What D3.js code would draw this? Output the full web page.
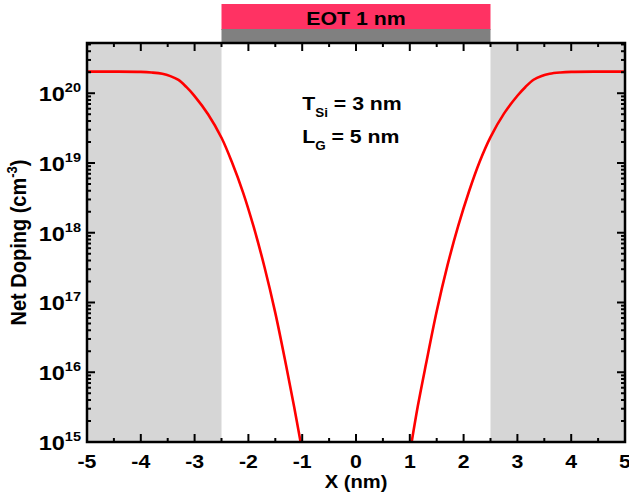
<!DOCTYPE html>
<html>
<head>
<meta charset="utf-8">
<script src="https://cdn.jsdelivr.net/npm/d3@7"></script>
<style>
  body { margin: 0; background: #fff; }
  text { font-family: "Liberation Sans", Arial, sans-serif; font-weight: bold; }
</style>
</head>
<body>
<div id="chart"></div>
<script>
// afmetingen van de figuur
const width = 629;
const height = 495;
const margin = {top: 43, right: 4, bottom: 53, left: 87};

// positie (nm) en netto dotering (cm^-3)
const positionLeft = [-5, -4.5, -4.0, -3.8, -3.6, -3.45, -3.3, -3.15, -3.0, -2.75, -2.5, -2.3, -2.1, -1.9, -1.7, -1.5, -1.3, -1.15, -1.03];
const dopingLeft = [2.04e20, 2.04e20, 2.02e20, 1.98e20, 1.9e20, 1.76e20, 1.55e20, 1.22e20, 9.1e19, 5.0e19, 2.3e19, 1.0e19, 3.8e18, 1.2e18, 3.2e17, 7.1e16, 1.26e16, 3.2e15, 1.0e15];
const positionRight = [1.035, 1.15, 1.3, 1.5, 1.7, 1.9, 2.1, 2.3, 2.5, 2.75, 3.0, 3.15, 3.3, 3.45, 3.6, 3.8, 4.0, 4.5, 5];
const dopingRight = [1.0e15, 3.3e15, 1.3e16, 7.5e16, 3.4e17, 1.25e18, 3.9e18, 1.05e19, 2.35e19, 5.1e19, 9.2e19, 1.23e20, 1.56e20, 1.77e20, 1.9e20, 1.98e20, 2.02e20, 2.04e20, 2.04e20];

// as-instellingen
const xTicks = [-5, -4, -3, -2, -1, 0, 1, 2, 3, 4, 5];
const yDecades = [15, 16, 17, 18, 19, 20];
const sourceRegion = [-5, -2.5];
const drainRegion = [2.5, 5];
const gateRegion = [-2.5, 2.5];

const plotW = width - margin.left - margin.right;
const plotH = height - margin.top - margin.bottom;
const stretch = 1.12;

const svg = d3.select("#chart")
    .append("svg")
    .attr("width", width)
    .attr("height", height);

const g = svg.append("g")
    .attr("transform", "translate(" + margin.left + "," + margin.top + ")");

// schalen
const xScale = d3.scaleLinear()
    .domain([-5, 5])
    .range([0, plotW]);

const yScale = d3.scaleLog()
    .domain([1e15, Math.pow(10, 20.72)])
    .range([plotH, 0]);

// hulpfunctie: tekst iets breder maken, zoals in het origineel
function label(x, y, size, anchor) {
  return g.append("text")
      .attr("transform", "translate(" + x + "," + y + ") scale(" + stretch + ",1)")
      .attr("text-anchor", anchor)
      .attr("font-size", size + "px");
}

// grijze source/drain gebieden
[sourceRegion, drainRegion].forEach(function(r) {
  g.append("rect")
      .attr("x", xScale(r[0]))
      .attr("y", 0)
      .attr("width", xScale(r[1]) - xScale(r[0]))
      .attr("height", plotH)
      .attr("fill", "#d6d6d6");
});

// gate stack boven de figuur
g.append("rect")
    .attr("x", xScale(gateRegion[0]))
    .attr("y", -39)
    .attr("width", xScale(gateRegion[1]) - xScale(gateRegion[0]))
    .attr("height", 26)
    .attr("fill", "#ff3263");
g.append("rect")
    .attr("x", xScale(gateRegion[0]))
    .attr("y", -14)
    .attr("width", xScale(gateRegion[1]) - xScale(gateRegion[0]))
    .attr("height", 14)
    .attr("fill", "#808080");
label(xScale(0), -18, 19, "middle").text("EOT 1 nm");

// de lijnen
const line = d3.line()
    .x(function(d) { return xScale(d[0]); })
    .y(function(d) { return yScale(d[1]); })
    .curve(d3.curveCatmullRom.alpha(0.5));

g.append("clipPath").attr("id", "clip")
  .append("rect").attr("width", plotW).attr("height", plotH + 2).attr("y", -1);

[[positionLeft, dopingLeft], [positionRight, dopingRight]].forEach(function(s) {
  g.append("path")
      .datum(d3.zip(s[0], s[1]))
      .attr("clip-path", "url(#clip)")
      .attr("fill", "none")
      .attr("stroke", "#ff0000")
      .attr("stroke-width", 2.6)
      .attr("d", line);
});

// tick marks (naar binnen)
const xMinor = d3.range(-4.5, 5, 1);
const yMinor = [];
for (let e = 15; e <= 20; e++) {
  for (let m = 2; m <= 9; m++) {
    if (Math.log10(m) + e <= 20.72) yMinor.push(m * Math.pow(10, e));
  }
}

const ticks = g.append("g").attr("stroke", "#000").attr("stroke-width", 2);
xTicks.forEach(function(t) {
  ticks.append("line").attr("x1", xScale(t)).attr("x2", xScale(t)).attr("y1", plotH).attr("y2", plotH - 8);
  ticks.append("line").attr("x1", xScale(t)).attr("x2", xScale(t)).attr("y1", 0).attr("y2", 8);
});
xMinor.forEach(function(t) {
  ticks.append("line").attr("x1", xScale(t)).attr("x2", xScale(t)).attr("y1", plotH).attr("y2", plotH - 4);
  ticks.append("line").attr("x1", xScale(t)).attr("x2", xScale(t)).attr("y1", 0).attr("y2", 4);
});
yDecades.forEach(function(e) {
  const y = yScale(Math.pow(10, e));
  ticks.append("line").attr("x1", 0).attr("x2", 8).attr("y1", y).attr("y2", y);
  ticks.append("line").attr("x1", plotW).attr("x2", plotW - 8).attr("y1", y).attr("y2", y);
});
yMinor.forEach(function(v) {
  const y = yScale(v);
  ticks.append("line").attr("x1", 0).attr("x2", 4).attr("y1", y).attr("y2", y);
  ticks.append("line").attr("x1", plotW).attr("x2", plotW - 4).attr("y1", y).attr("y2", y);
});

// kader
g.append("rect")
    .attr("width", plotW)
    .attr("height", plotH)
    .attr("fill", "none")
    .attr("stroke", "#000")
    .attr("stroke-width", 2.5);

// x tick labels
xTicks.forEach(function(t) {
  label(xScale(t), plotH + 26, 19, "middle").text(t);
});

// y tick labels 10^n
yDecades.forEach(function(e) {
  const txt = label(-6, yScale(Math.pow(10, e)) + 8, 21, "end");
  txt.append("tspan").text("10");
  txt.append("tspan").attr("dy", -9).attr("font-size", "13px").text(e);
});

// as titels
label(plotW / 2, plotH + 46, 18, "middle").text("X (nm)");

const yTitle = g.append("text")
    .attr("transform", "translate(-61," + (plotH / 2) + ") rotate(-90) scale(1," + stretch + ")")
    .attr("text-anchor", "middle")
    .attr("font-size", "20px");
yTitle.append("tspan").text("Net Doping (cm");
yTitle.append("tspan").attr("dy", -8).attr("font-size", "13px").text("-3");
yTitle.append("tspan").attr("dy", 8).text(")");

// annotatie
const t1 = label(xScale(-1.0), 67, 19, "start");
t1.append("tspan").text("T");
t1.append("tspan").attr("dy", 7).attr("font-size", "12px").text("Si");
t1.append("tspan").attr("dy", -7).text(" = 3 nm");

const t2 = label(xScale(-1.0), 100, 19, "start");
t2.append("tspan").text("L");
t2.append("tspan").attr("dy", 7).attr("font-size", "12px").text("G");
t2.append("tspan").attr("dy", -7).text(" = 5 nm");
</script>
</body>
</html>
